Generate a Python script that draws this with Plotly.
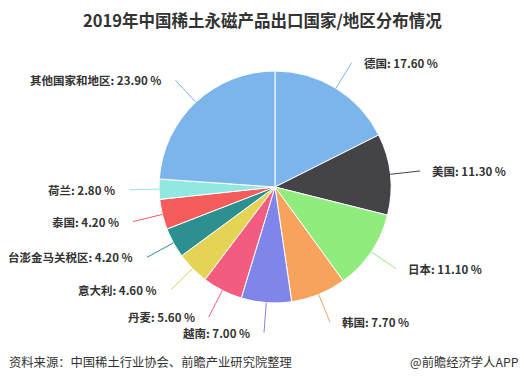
import math
import plotly.graph_objects as go

categories = ["德国", "美国", "日本", "韩国", "越南", "丹麦", "意大利",
              "台澎金马关税区", "泰国", "荷兰", "其他国家和地区"]
shares = [17.6, 11.3, 11.1, 7.7, 7.0, 5.6, 4.6, 4.2, 4.2, 2.8, 23.9]
colors = ["#7cb5ec", "#434348", "#90ed7d", "#f7a35c", "#8085e9", "#f15c80",
          "#e4d354", "#2b908f", "#f45b5b", "#91e8e1", "#7cb5ec"]

title = "2019年中国稀土永磁产品出口国家/地区分布情况"
source = "资料来源：中国稀土行业协会、前瞻产业研究院整理"
brand = "@前瞻经济学人APP"

W, H = 524, 384
CX, CY, R = 275, 187, 116   # pixel centre / radius
DIST = 30
FONT = "Noto Sans CJK SC, Noto Sans, sans-serif"

fig = go.Figure(go.Pie(
    labels=categories, values=shares, sort=False, direction="clockwise",
    rotation=0, textinfo="none", hoverinfo="label+percent",
    marker=dict(colors=colors, line=dict(color="white", width=1)),
    domain=dict(x=[(CX - R) / W, (CX + R) / W],
                y=[1 - (CY + R) / H, 1 - (CY - R) / H]),
    showlegend=False,
))

def px(x):
    return x / W

def py(y):
    return 1 - y / H

total = sum(shares)
cum = 0.0
annotations = []
shapes = []
for name, v, c in zip(categories, shares, colors):
    mid = (cum + v / 2) / total * 2 * math.pi
    cum += v
    s, co = math.sin(mid), math.cos(mid)
    ex, ey = CX + R * s, CY - R * co
    bx, by = CX + (R + 14) * s, CY - (R + 14) * co
    ly = CY - (R + DIST) * co
    dy = ly - CY
    dx = math.sqrt(max((R + DIST) ** 2 - dy ** 2, 0))
    left = s < 0
    lx = CX - dx if left else CX + dx
    shapes.append(dict(
        type="path", xref="paper", yref="paper",
        path=f"M {px(ex)} {py(ey)} Q {px(bx)} {py(by)} {px(lx)} {py(ly)}",
        line=dict(color=c, width=1),
    ))
    tx = lx - 12 if left else lx + 10
    annotations.append(dict(
        x=px(tx), y=py(ly), xref="paper", yref="paper", showarrow=False,
        xanchor="right" if left else "left", yanchor="middle",
        text=f"<b>{name}: {v:.2f} %</b>",
        font=dict(family=FONT, size=11.5, color="#333333"),
    ))

annotations.append(dict(x=0.5, y=py(20), xref="paper", yref="paper",
                        showarrow=False, xanchor="center", yanchor="middle",
                        text=f"<b>{title}</b>",
                        font=dict(family=FONT, size=16.5, color="#333333")))
annotations.append(dict(x=px(7), y=py(362), xref="paper", yref="paper",
                        showarrow=False, xanchor="left", yanchor="middle",
                        text=source,
                        font=dict(family=FONT, size=12.3, color="#333333")))
annotations.append(dict(x=px(521), y=py(362), xref="paper", yref="paper",
                        showarrow=False, xanchor="right", yanchor="middle",
                        text=brand,
                        font=dict(family=FONT, size=12.3, color="#333333")))

fig.update_layout(
    width=W, height=H, margin=dict(l=0, r=0, t=0, b=0),
    paper_bgcolor="white", plot_bgcolor="white",
    annotations=annotations, shapes=shapes,
)
fig.write_html("out.html", config={"displayModeBar": False},
               post_script="document.body.style.margin='0';"
                           "document.body.style.overflow='hidden';")
